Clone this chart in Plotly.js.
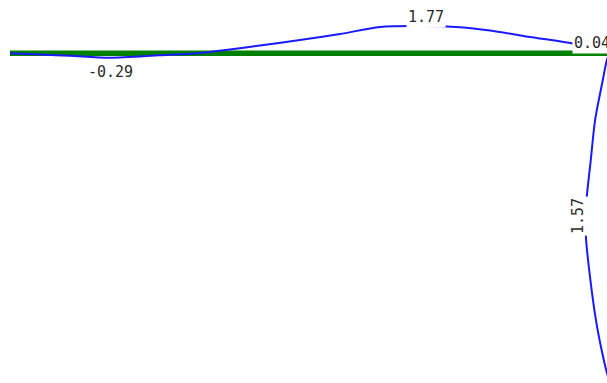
<!DOCTYPE html>
<html>
<head>
<meta charset="utf-8">
<script src="https://cdn.plot.ly/plotly-3.0.1.min.js"></script>
<style>html,body{margin:0;padding:0;background:#fff;}#chart{width:607px;height:383px;}</style>
</head>
<body>
<div id="chart"></div>
<script>
// Frame geometry (m)
const beamLength = 6.0;
const columnHeight = 3.3;

// Bending moment along the beam (x in m, M in kNm)
const beamX = [0, 0.3, 0.6, 1.0, 1.5, 1.88, 2.2, 2.5, 2.9, 3.3, 3.7, 4.1, 4.5, 4.8, 5.2, 5.65, 6.0];
const beamM = [0, -0.08, -0.16, -0.29, -0.13, 0, 0.25, 0.51, 0.86, 1.25, 1.71, 1.77, 1.69, 1.48, 1.06, 0.60, 0.04];

// Bending moment along the column (depth below the beam in m, M in kNm)
const colDepth = [0, 0.07, 0.27, 0.67, 1.07, 1.44, 1.62, 1.85, 2.27, 2.67, 2.97, 3.19, 3.3];
const colM = [0.04, 0.21, 0.47, 0.97, 1.25, 1.51, 1.57, 1.56, 1.27, 0.91, 0.54, 0.21, 0];

// Labelled values: member, position along member of the label, value
const labelMember = ['beam', 'beam', 'beam', 'column'];
const labelPos = [1.0, 4.1, 5.82, 1.62];
const labelValue = [-0.29, 1.77, 0.04, 1.57];

const diagramScale = 0.154; // m of drawing per kNm

const beamDiagX = beamX;
const beamDiagY = beamM.map(m => m * diagramScale);
const colDiagX = colM.map(m => beamLength - m * diagramScale);
const colDiagY = colDepth.map(d => -d);

const traces = [
  {x: [0, beamLength], y: [0, 0], mode: 'lines', line: {color: '#008000', width: 5.5}, hoverinfo: 'skip'},
  {x: [beamLength, beamLength], y: [0, -columnHeight], mode: 'lines', line: {color: '#008000', width: 5.5}, hoverinfo: 'skip'},
  {x: beamDiagX, y: beamDiagY, mode: 'lines', line: {color: '#1a1aff', width: 2, shape: 'spline', smoothing: 0.8}},
  {x: colDiagX, y: colDiagY, mode: 'lines', line: {color: '#1a1aff', width: 2, shape: 'spline', smoothing: 0.8}}
];

const shifts = [[0, -14.2], [6, 8.6], [0, 9.7], [-8, -1]];
const annotations = labelValue.map((v, i) => {
  let ax, ay;
  if (labelMember[i] === 'beam') {
    ax = labelPos[i];
    ay = v * diagramScale;
  } else {
    ax = beamLength - v * diagramScale;
    ay = -labelPos[i];
  }
  return {
    x: ax, y: ay, xref: 'x', yref: 'y',
    text: v.toFixed(2),
    showarrow: false,
    xshift: shifts[i][0], yshift: shifts[i][1],
    textangle: labelMember[i] === 'column' ? -90 : 0,
    bgcolor: '#ffffff',
    borderpad: 1,
    font: {family: 'DejaVu Sans Mono, monospace', size: 15, color: '#2a2a2a'}
  };
});

const layout = {
  width: 607, height: 383,
  margin: {l: 0, r: 0, t: 0, b: 0},
  paper_bgcolor: '#ffffff', plot_bgcolor: '#ffffff',
  showlegend: false,
  xaxis: {range: [-0.1, 5.97], visible: false, showgrid: false, zeroline: false, fixedrange: true},
  yaxis: {range: [-3.297, 0.533], visible: false, showgrid: false, zeroline: false, fixedrange: true},
  annotations: annotations
};

Plotly.newPlot('chart', traces, layout, {displayModeBar: false, staticPlot: true});
</script>
</body>
</html>
